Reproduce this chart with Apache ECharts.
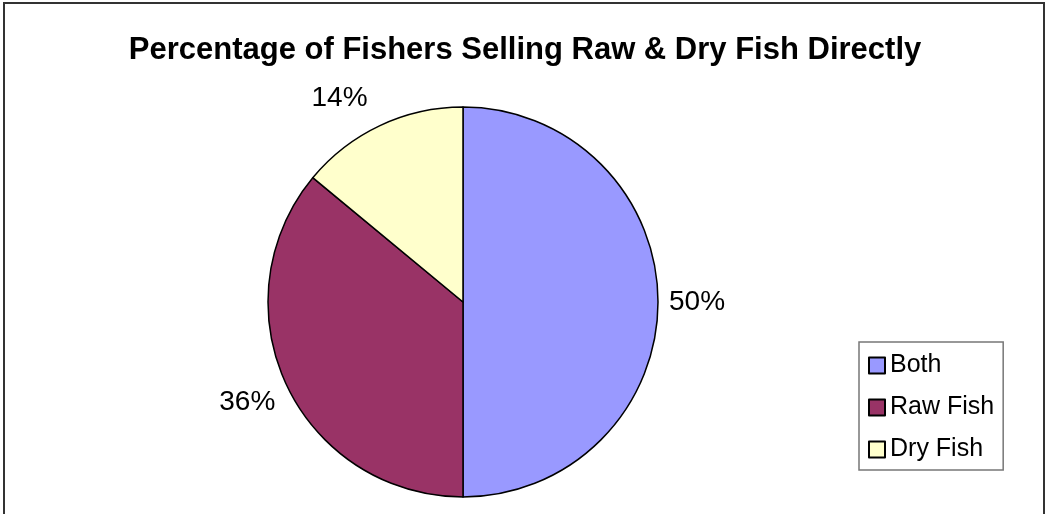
<!DOCTYPE html>
<html>
<head>
<meta charset="utf-8">
<script src="https://cdn.jsdelivr.net/npm/echarts@6/dist/echarts.min.js"></script>
<style>
  html, body { margin: 0; padding: 0; background: #fff; overflow: hidden; }
  #frame {
    position: absolute; left: 3px; top: 2px; width: 1042px; height: 600px;
    border: 2px solid #333; box-sizing: border-box;
  }
  #main { position: absolute; left: 0; top: 0; width: 1050px; height: 514px; }
</style>
</head>
<body>
<div id="frame"></div>
<div id="main"></div>
<script>
// data
var categories = ['Both', 'Raw Fish', 'Dry Fish']
var shares = [50, 36, 14]
var sliceColors = ['#9999FF', '#993366', '#FFFFCC']
// small nudges so the % labels sit where the original puts them
var labelNudge = [[-2, 0], [1, 14], [-4, -20]]

var chart = echarts.init(document.getElementById('main'))

var pieData = categories.map(function (name, i) {
  return { name: name, value: shares[i], itemStyle: { color: sliceColors[i] } }
})

chart.setOption({
  animation: false,
  title: {
    text: 'Percentage of Fishers Selling Raw & Dry Fish Directly',
    left: 'center',
    top: 30,
    textStyle: {
      fontFamily: 'Liberation Sans, Arial, sans-serif',
      fontWeight: 'bold',
      fontSize: 31,
      color: '#000'
    }
  },
  legend: {
    orient: 'vertical',
    left: 859,
    top: 342,
    data: categories,
    icon: 'rect',
    itemWidth: 16,
    itemHeight: 16,
    itemGap: 17,
    padding: [11, 9, 8, 9],
    borderColor: '#777',
    borderWidth: 1.5,
    textStyle: {
      fontFamily: 'Liberation Sans, Arial, sans-serif',
      fontSize: 25,
      color: '#000'
    }
  },
  series: [{
    type: 'pie',
    center: [463, 302],
    radius: 195,
    startAngle: 90,
    clockwise: true,
    data: pieData,
    itemStyle: { borderColor: '#000', borderWidth: 1.5 },
    label: {
      show: true,
      position: 'outside',
      formatter: '{d}%',
      fontFamily: 'Liberation Sans, Arial, sans-serif',
      fontSize: 28,
      color: '#000'
    },
    labelLine: { show: false, length: 8, length2: 0 },
    labelLayout: function (params) {
      var n = labelNudge[params.dataIndex]
      return { dx: n[0], dy: n[1] }
    },
    emphasis: { disabled: true }
  }]
})
</script>
</body>
</html>
